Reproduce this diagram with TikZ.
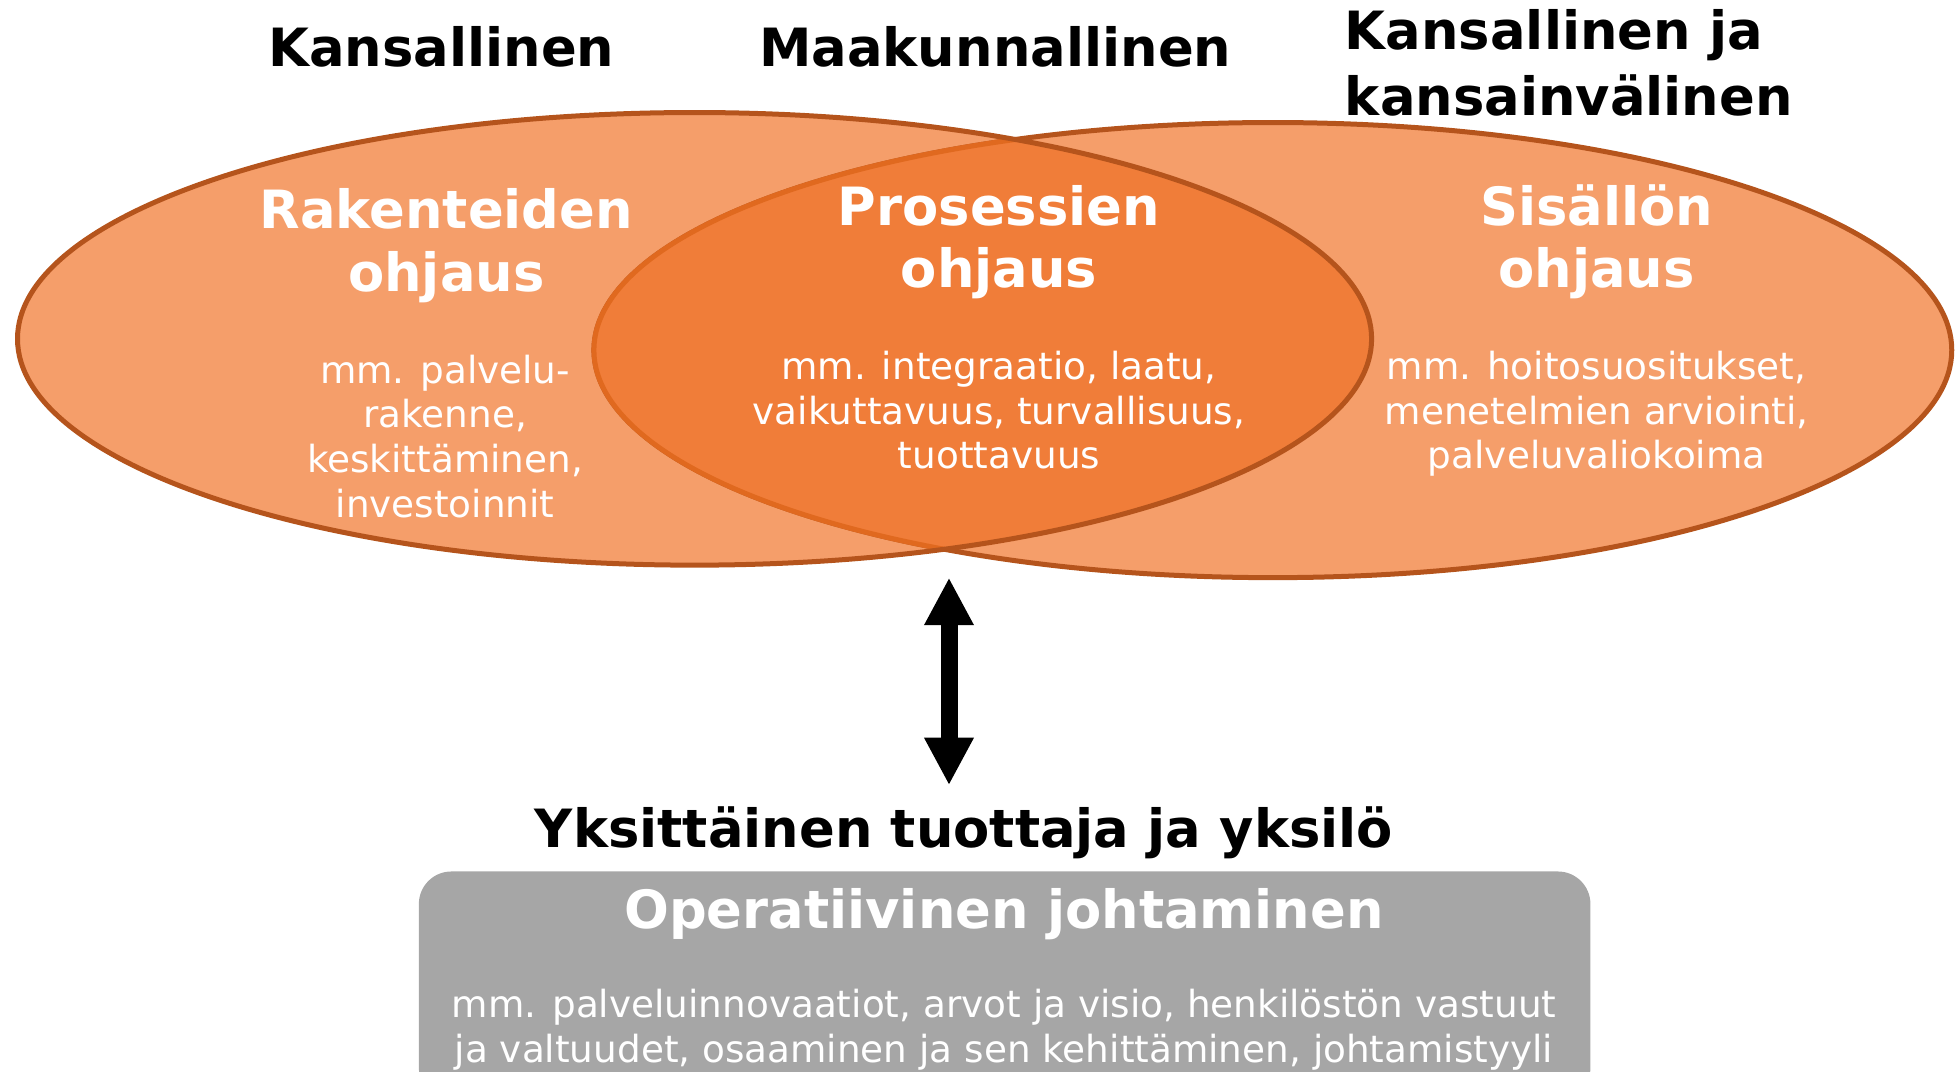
\documentclass[tikz,border=0pt]{standalone}
\usepackage{fontspec}
\setmainfont{DejaVu Sans}
\usetikzlibrary{arrows.meta}
\definecolor{lightorange}{HTML}{F59E6A}
\definecolor{midorange}{HTML}{F07D39}
\definecolor{rimorange}{HTML}{B5541C}
\definecolor{innerrim}{HTML}{E0691F}
\definecolor{boxgray}{HTML}{A6A6A6}
\begin{document}
\begin{tikzpicture}[x=0.1mm,y=-0.1mm,
  level/.style={font=\bfseries\fontsize{12}{14.2}\selectfont, anchor=base, inner sep=0pt},
  title/.style={level, text=white, align=center},
  detail/.style={font=\fontsize{8.5}{10.2}\selectfont, text=white, align=center, anchor=base, inner sep=0pt},
  rim/.style={draw=rimorange, line width=0.4mm},
  updown/.style={line width=1.36mm, {Triangle[length=3.8mm,width=3.7mm]}-{Triangle[length=3.8mm,width=3.7mm]}}]
\useasboundingbox (0,0) rectangle (1566,857);

% Ellipses
\fill[lightorange] (555.5,271) ellipse [x radius=541.5, y radius=181];
\fill[lightorange] (1018,280) ellipse [x radius=543, y radius=182];
\draw[rim] (1018,280) ellipse [x radius=543, y radius=182];
\begin{scope}
\clip (555.5,271) ellipse [x radius=541.5, y radius=181];
\fill[midorange] (1018,280) ellipse [x radius=543, y radius=182];
\draw[rim, draw=innerrim] (1018,280) ellipse [x radius=543, y radius=182];
\end{scope}
\draw[rim] (555.5,271) ellipse [x radius=541.5, y radius=181];

% Box
\fill[boxgray, rounded corners=2.6mm] (335,697) rectangle (1272,880);

% Levels (multi-line nodes sit on their last baseline)
\node[level] (kans) at (353,53) {Kansallinen};
\node[level] (maak) at (796,53) {Maakunnallinen};
\node[level, font=\bfseries\fontsize{12}{14.8}\selectfont, align=left, anchor=base west] (kansint) at (1075,92) {Kansallinen ja\\kansainvälinen};

% Steering
\node[title] (rak) at (357,233) {Rakenteiden\\ohjaus};
\node[title] (pros) at (799,230) {Prosessien\\ohjaus};
\node[title] (sis) at (1277,230) {Sisällön\\ohjaus};
\node[detail] (rakdet) at (356,414) {mm. palvelu-\\rakenne,\\keskittäminen,\\investoinnit};
\node[detail] (prosdet) at (799,375) {mm. integraatio, laatu,\\vaikuttavuus, turvallisuus,\\tuottavuus};
\node[detail] (sisdet) at (1277,375) {mm. hoitosuositukset,\\menetelmien arviointi,\\palveluvaliokoima};

% Arrow
\coordinate (arrowtop) at (759,462);
\coordinate (arrowbot) at (759,628);
\draw[updown] (arrowtop) -- (arrowbot);

% Operative level
\node[level] (yks) at (771,678) {Yksittäinen tuottaja ja yksilö};
\node[title] (oper) at (803,743) {Operatiivinen johtaminen};
\node[detail] (operdet) at (803,850) {mm. palveluinnovaatiot, arvot ja visio, henkilöstön vastuut\\ja valtuudet, osaaminen ja sen kehittäminen, johtamistyyli};
\end{tikzpicture}
\end{document}
